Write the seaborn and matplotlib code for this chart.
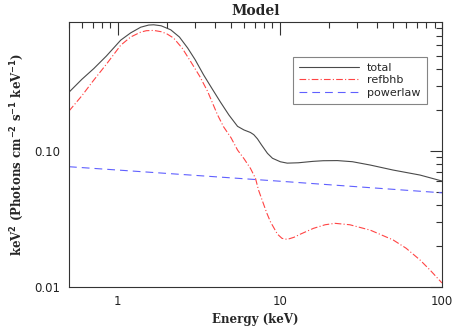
import matplotlib
matplotlib.use("Agg")
import matplotlib.pyplot as plt
import seaborn as sns
import pandas as pd
import numpy as np
from matplotlib.ticker import FixedLocator, FixedFormatter, LogLocator, NullFormatter

# Data
total_E = [0.5, 0.6, 0.712, 0.85, 1.043, 1.2, 1.385, 1.55, 1.666, 1.85, 2.12, 2.4, 2.70, 3.0,
           3.38, 3.8, 4.30, 4.85, 5.48, 6.0, 6.58, 6.9, 7.27, 7.7, 8.38, 9.0, 10.07, 11.1,
           13.0, 16.0, 18.5, 22.6, 28.0, 36.1, 49.9, 73.2, 100]
total_v = [0.271, 0.337, 0.405, 0.50, 0.655, 0.74, 0.815, 0.845, 0.849, 0.835, 0.780, 0.69, 0.572, 0.47,
           0.364, 0.29, 0.229, 0.184, 0.152, 0.143, 0.137, 0.132, 0.123, 0.111, 0.0962, 0.0885, 0.0834, 0.0815,
           0.0820, 0.0840, 0.0849, 0.0851, 0.0835, 0.0789, 0.0725, 0.0666, 0.0602]

refbhb_E = [0.5, 0.6, 0.7, 0.85, 1.043, 1.2, 1.385, 1.5, 1.666, 1.85, 2.0, 2.21, 2.5, 2.81, 3.2, 3.58,
            4.12, 4.49, 5.0, 5.48, 6.0, 6.58, 7.07, 7.38, 7.8, 8.3, 8.74, 9.65, 10.3, 11.1, 12.2,
            13.4, 16.1, 19.0, 21.9, 27.0, 36.1, 49.9, 60.0, 73.2, 85.0, 100]
refbhb_v = [0.197, 0.255, 0.325, 0.435, 0.601, 0.69, 0.750, 0.768, 0.772, 0.755, 0.730, 0.678, 0.570, 0.457, 0.355, 0.275,
            0.185, 0.151, 0.125, 0.1017, 0.088, 0.0746, 0.063, 0.0517, 0.043, 0.035, 0.0302, 0.0245, 0.0228, 0.0224, 0.0232,
            0.0245, 0.0270, 0.0287, 0.0294, 0.0287, 0.0262, 0.0222, 0.0193, 0.0158, 0.0132, 0.0107]

powerlaw_E = [0.5, 1, 10, 100]
powerlaw_v = [0.0767, 0.0725, 0.0600, 0.0493]

x_ticks = [1, 10, 100]
x_ticklabels = ["1", "10", "100"]
y_ticks = [0.01, 0.1]
y_ticklabels = ["0.01", "0.10"]

df = pd.concat([
    pd.DataFrame({"E": total_E, "v": total_v, "comp": "total"}),
    pd.DataFrame({"E": refbhb_E, "v": refbhb_v, "comp": "refbhb"}),
    pd.DataFrame({"E": powerlaw_E, "v": powerlaw_v, "comp": "powerlaw"}),
], ignore_index=True)

sns.set_style("white")
plt.rcParams["font.family"] = ["DejaVu Sans"]

fig = plt.figure(figsize=(4.63, 3.31), dpi=100)
ax = fig.add_axes([69/463, 44/331, (442-69)/463, (287-22)/331])

styles = {
    "total": dict(color="#4a4a4a", ls="-"),
    "refbhb": dict(color="#ff4444", ls=(0, (6, 2, 1, 2))),
    "powerlaw": dict(color="#6060ff", ls=(0, (7, 4.5))),
}
for comp in ["total", "refbhb", "powerlaw"]:
    sub = df[df["comp"] == comp]
    sns.lineplot(data=sub, x="E", y="v", ax=ax, label=comp, lw=0.8,
                 color=styles[comp]["color"], linestyle=styles[comp]["ls"],
                 sort=False, estimator=None)

ax.set_xscale("log")
ax.set_yscale("log")
ax.set_xlim(0.5, 100)
ax.set_ylim(0.01, 0.89)

ax.xaxis.set_major_locator(FixedLocator(x_ticks))
ax.xaxis.set_major_formatter(FixedFormatter(x_ticklabels))
ax.xaxis.set_minor_locator(LogLocator(base=10, subs=np.arange(2, 10)))
ax.xaxis.set_minor_formatter(NullFormatter())
ax.yaxis.set_major_locator(FixedLocator(y_ticks))
ax.yaxis.set_major_formatter(FixedFormatter(y_ticklabels))
ax.yaxis.set_minor_locator(LogLocator(base=10, subs=np.arange(2, 10)))
ax.yaxis.set_minor_formatter(NullFormatter())

ax.tick_params(which="both", direction="in", top=True, right=True, colors="#333333",
               labelcolor="#222222", labelsize=8.5, width=0.8)
ax.tick_params(which="major", length=9, pad=6)
ax.tick_params(which="minor", length=4.5)
for s in ax.spines.values():
    s.set_color("#333333")
    s.set_linewidth(0.8)

serif = dict(family="DejaVu Serif", weight="bold")
ax.set_title("Model", fontsize=10, pad=5, **serif)
ax.set_xlabel("Energy (keV)", fontsize=8.5, labelpad=3, **serif)
ax.set_ylabel("keV$^\\mathbf{2}$ (Photons cm$^\\mathbf{-2}$ s$^\\mathbf{-1}$ keV$^\\mathbf{-1}$)",
              fontsize=8.5, labelpad=6, **serif)

leg = ax.legend(loc="upper left", bbox_to_anchor=((293-69)/373, (287-57)/265),
                frameon=True, fancybox=False, fontsize=8, handlelength=5.4,
                handletextpad=0.7, borderpad=0.55, labelspacing=0.2, borderaxespad=0)
leg.get_frame().set_edgecolor("#666666")
leg.get_frame().set_linewidth(0.8)

fig.savefig("out.png", dpi=100)
